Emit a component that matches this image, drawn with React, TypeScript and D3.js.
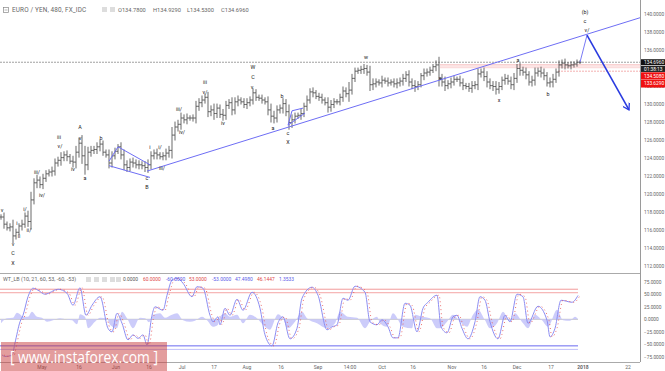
import React from "react";
import * as d3 from "d3";

const closes = [117.5,116.7,116.3,116.4,115.4,115.8,116.5,116.7,117.6,117.0,119.4,121.3,121.6,121.1,121.8,122.3,122.5,122.6,123.5,123.8,124.1,124.4,124.2,123.7,123.6,124.7,125.7,124.3,123.3,124.7,124.9,125.0,125.3,125.6,124.7,124.4,123.5,124.3,124.8,125.3,124.4,123.3,123.0,123.6,123.5,123.3,123.3,123.2,123.0,123.3,124.3,124.6,124.4,124.2,124.3,124.6,124.9,126.6,127.5,127.8,128.5,128.3,128.5,128.5,128.5,129.8,130.2,130.5,130.8,129.2,129.4,129.0,129.6,128.9,128.8,129.9,130.2,129.4,130.3,130.5,130.3,130.0,130.2,130.5,131.3,130.8,130.7,130.5,130.3,129.4,128.7,128.5,129.4,129.6,130.1,129.2,128.0,128.3,128.7,128.8,129.0,129.8,130.5,131.4,131.3,130.9,130.8,130.5,130.2,129.7,130.0,130.3,130.3,130.8,131.5,131.2,131.6,132.9,133.7,133.8,133.9,134.0,133.6,132.2,132.3,132.5,132.4,132.7,132.6,132.4,132.5,132.3,132.4,132.6,132.9,133.3,132.5,132.1,132.0,132.2,133.2,133.5,133.6,133.8,134.2,134.4,132.9,132.5,132.1,132.3,132.5,132.8,132.8,132.4,132.1,132.0,131.8,132.1,132.2,133.4,133.6,133.1,132.5,132.1,132.0,131.7,132.0,132.7,132.9,132.6,132.2,132.9,134.0,133.8,133.6,133.3,132.5,132.7,133.5,133.7,133.5,133.2,132.4,132.5,132.8,133.6,134.4,134.6,134.4,134.3,134.4,134.5,134.7,134.7];
const wicks = [.3,.5,.3,.4,.8,.4,.3,.5,.4,.6,.9,.5,.6,.4,.5,.4,.3,.5,.5,.4,.6,.4,.5,.3,.6,.7,.6,.9,1.1,.6,.5,.4,.5,.5,.4,.3,.6,.5,.4,.3,.5,.6,.5,.4,.5,.4,.5,.4,.5,.6,.5,.4,.5,.3,.4,.5,.5,.9,.6,.5,.6,.4,.5,.3,.4,.6,.5,.5,.4,.6,.5,.7,.5,.4,.6,.5,.4,.6,.5,.5,.3,.4,.5,.4,.5,.4,.3,.4,.3,.6,.7,.6,.5,.4,.6,.5,.8,.6,.4,.3,.5,.4,.5,.4,.5,.3,.4,.4,.3,.6,.5,.4,.3,.4,.5,.4,.9,.5,.4,.3,.4,.5,.4,.7,.6,.4,.3,.5,.3,.4,.3,.4,.5,.4,.5,.4,.5,.4,.6,.4,.3,.5,.4,.4,.3,.5,.9,.5,.6,.4,.5,.4,.3,.4,.5,.3,.4,.5,.4,.6,.4,.5,.6,.4,.5,.6,.5,.4,.5,.4,.5,.6,.5,.6,.4,.5,.4,.5,.6,.4,.5,.5,.4,.5,.6,.4,.5,.4,.5,.3,.4,.3,.3,.2,.2,.2,.2,.2];

const wtSlots = [2,5,12,15,20,23,28,33,38,45,58,67,73,80,86,92,100,108,112,117,122,128,133,138,143,147,152,155,163,167,172,177,183,192,197,203,210,213,218,220,225,230,237,243,252,260,265,272,278,283,290,297,302,312,318,327,332,337,343,348,355,365,370,377,382,388,393,398,405,410,417,423,428,437,441,447,453,457,462,468,475,480,485,490,498,505,510,517,523,528,538,547,550,555,561,572,578];
const wt1 = [-71,-74,-72,-47,-5,8,45,62,58,50,60,52,28,63,8,28,45,-18,-25,12,-8,-41,-31,-38,-31,-51,8,25,18,48,78,82,72,45,65,62,8,-5,5,-11,22,8,40,18,54,22,-31,-53,-7,5,-39,-18,42,64,48,-21,-15,-11,42,38,66,54,-5,-11,-1,-15,-37,-37,32,28,-25,22,34,48,-15,-27,5,8,-18,-39,-5,45,38,-5,-39,8,-5,50,45,-8,26,-2,-35,-18,38,34,47.5];

const histSlots = [1,7,13,17,20,23,28,32,37,42,47,53,60,67,72,77,80,85,88,95,100,107,110,117,122,127,133,140,145,149,153,160,165,172,177,183,190,195,202,207,213,218,220,225,230,237,243,250,257,263,270,278,283,288,295,302,307,317,327,335,340,348,357,365,370,377,380,387,393,403,412,415,422,430,437,440,447,453,460,467,473,478,485,490,497,503,510,515,523,528,535,542,548,557,563,570,575,578];
const hist = [-8,2,3,13,10,5,5,15,5,3,-5,-2,2,-1,-2,-10,10,5,-18,-5,3,2,-11,-18,15,2,-18,3,2,-6,9,12,3,9,12,-2,-5,-3,5,-2,-15,-11,5,12,5,9,-8,9,2,-11,-21,10,2,-18,-5,15,2,-8,-18,-8,15,5,3,-18,-5,5,-8,-15,12,-15,-18,9,5,2,-18,-18,-5,9,-5,-15,9,19,-2,-18,-8,15,-5,12,-8,-18,9,-2,-15,19,-2,-3,5,0];

const priceTicks = [140,138,136,132,130,128,126,124,122,120,118,116,114,112];
const wtTicks = [75,50,25,0,-25,-50,-75];
const timeLabels = ["May","16","Jun","16","Jul","17","Aug","16","Sep","14:00","Oct","16","Nov","16","Dec","17","2018","22"];
const timeSlots = [42,79,116,149,182,214,247,281,318,350,382,413,452,484,517,551,583,628];

const waveLabels = ["iii","v/","A","v","b","iii","v/","iii/","iv/","iv","a","iii/","iv/","i/","ii/","i","ii","v","C","X","v","i","i/","iii/","c","B","iv","W","C","v","b","a","c","X","w","x","a","x","b","(b)","c","v/"];
const waveSlots = [59,60,80,80,101,205,205,179,182,73,85,37,42,25,29,17,19,13,13,13,2,150,160,162,147,147,223,253,253,252,282,273,288,288,366,440,518,499,548,585,585,587];
const wavePrices = [126.4,125.4,127.5,126.3,126.3,132.5,131.4,129.5,127.0,122.8,121.8,122.5,119.9,118.4,116.1,116.8,115.4,114.5,113.5,112.4,118.3,125.3,125.3,123.0,121.8,120.8,128.0,134.2,133.1,132.0,131.0,127.4,126.8,125.8,135.3,132.9,134.9,130.5,131.2,140.3,139.3,138.3];

const trendLine: [number, number][] = [[147,122.6],[640,139.64]];
const wedgeLines: [number, number][][] = [
  [[109,123.2],[150,121.9]],
  [[109,123.7],[118,125.3],[150,123.3]],
  [[288,127.7],[305,129.05]],
  [[288,127.7],[292,129.3],[303,129.6]],
];
const projection: [number, number][] = [[580,134.7],[587,137.7]];
const arrowLine: [number, number][] = [[587,137.7],[629,129.4]];

const sans = "Roboto, 'Liberation Sans', sans-serif";
const fmt = d3.format(".4f");

export default function App() {
  const x = d3.scaleLinear().domain([0, 640]).range([0, 640]);
  const y = d3.scaleLinear().domain([140, 112]).range([14.5, 266.5]);
  const w = d3.scaleLinear().domain([75, -75]).range([281.7, 356.9]);
  const xBar = d3.scaleLinear().domain([0, closes.length - 1]).range([1, 580]);
  const pl = d3.line<[number, number]>().x((d) => x(d[0])).y((d) => y(d[1]));
  const wtLine = d3.line<number>().x((_, i) => x(wtSlots[i])).y((d) => w(d)).curve(d3.curveMonotoneX);
  const wt2Line = d3.line<number>().x((_, i) => x(wtSlots[i] + 2)).y((d) => w(d)).curve(d3.curveMonotoneX);
  const histArea = d3.area<number>().x((_, i) => x(histSlots[i])).y0(w(0)).y1((d) => w(d)).curve(d3.curveMonotoneX);

  const levels = [
    { v: 60, c: "#f29a9a" },
    { v: 53, c: "#f4a5a5" },
    { v: -53, c: "#6a6af0" },
    { v: -60, c: "#c0c0fa" },
  ];
  const legend = [
    { t: "0.0000", x: 123, c: "#555" },
    { t: "60.0000", x: 143, c: "#e04848" },
    { t: "-60.0000", x: 166, c: "#5a5ae8" },
    { t: "53.0000", x: 189, c: "#e04848" },
    { t: "-53.0000", x: 212, c: "#5a5ae8" },
    { t: "47.4980", x: 235, c: "#5a5ae8" },
    { t: "46.1447", x: 257, c: "#e04848" },
    { t: "1.3533", x: 279, c: "#5a5ae8" },
  ];
  const boxes = [
    { t: "134.6960", p: 134.696, bg: "#111", h: 6 },
    { t: "01:38:13", p: 133.95, bg: "#222", h: 6 },
    { t: "134.5080", p: 133.19, bg: "#f01010", h: 7 },
    { t: "133.6290", p: 132.33, bg: "#f01010", h: 8 },
  ];

  return (
    <svg width={665} height={371} style={{ position: "absolute", left: 0, top: 0, background: "#fff" }} fontFamily={sans}>
      <defs>
        <marker id="arr" viewBox="0 0 10 10" refX="9" refY="5" markerWidth="8" markerHeight="8" markerUnits="userSpaceOnUse" orient="auto">
          <path d="M1 0 L9 5 L1 10" fill="none" stroke="#2a3be0" strokeWidth="1.6" />
        </marker>
      </defs>

      {/* frames */}
      <line x1={640.5} x2={640.5} y1={0} y2={362} stroke="#9a9a9a" />
      <line x1={0} x2={640} y1={273.5} y2={273.5} stroke="#aaa" />
      <line x1={0} x2={640} y1={362.5} y2={362.5} stroke="#aaa" />

      {/* price levels */}
      <line x1={0} x2={640} y1={y(134.696)} y2={y(134.696)} stroke="#777" strokeWidth={0.7} strokeDasharray="2 1" />
      <line x1={x(440)} x2={640} y1={y(134.4)} y2={y(134.4)} stroke="#f2a0a0" strokeWidth={0.8} />
      <line x1={x(440)} x2={640} y1={y(134.15)} y2={y(134.15)} stroke="#fbdcdc" strokeWidth={2} />
      <line x1={x(558)} x2={640} y1={y(133.7)} y2={y(133.7)} stroke="#f09a9a" strokeWidth={0.8} strokeDasharray="2 1" />

      {/* OHLC bars */}
      <g stroke="#3c3c3c" strokeWidth={0.9} opacity={0.85}>
        {closes.map((c, i) => {
          const o = i ? closes[i - 1] : c;
          const wk = wicks[i] ?? 0.3;
          const px = xBar(i);
          return (
            <g key={i}>
              <line x1={px} x2={px} y1={y(Math.max(o, c) + wk)} y2={y(Math.min(o, c) - wk)} />
              <line x1={px - 1.6} x2={px} y1={y(o)} y2={y(o)} />
              <line x1={px} x2={px + 1.6} y1={y(c)} y2={y(c)} />
            </g>
          );
        })}
      </g>

      {/* wave drawings */}
      <path d={pl(trendLine)!} fill="none" stroke="#6e6ef5" strokeWidth={1} />
      {wedgeLines.map((l, i) => (
        <path key={i} d={pl(l)!} fill="none" stroke="#6e6ef5" strokeWidth={1} />
      ))}
      <path d={pl(projection)!} fill="none" stroke="#7a7af5" strokeWidth={1} />
      <path d={pl(arrowLine)!} fill="none" stroke="#2a3be0" strokeWidth={1.6} markerEnd="url(#arr)" />

      <g fontSize={5.4} fill="#222" textAnchor="middle">
        {waveLabels.map((t, i) => (
          <text key={i} x={x(waveSlots[i])} y={y(wavePrices[i]) + 2}>{t}</text>
        ))}
      </g>

      {/* price axis */}
      <g fontSize={4.8} fill="#666">
        {priceTicks.map((p) => (
          <text key={p} x={644} y={y(p) + 1.8}>{fmt(p)}</text>
        ))}
        {wtTicks.map((v) => (
          <text key={v} x={644} y={w(v) + 1.8}>{fmt(v)}</text>
        ))}
      </g>
      {boxes.map((b) => (
        <g key={b.t}>
          <rect x={641} width={24} y={y(b.p) - b.h / 2} height={b.h} fill={b.bg} />
          <text x={644} y={y(b.p) + 1.8} fontSize={4.8} fill="#fff">{b.t}</text>
        </g>
      ))}

      {/* header */}
      <rect x={3.5} y={7.5} width={5} height={5} fill="none" stroke="#888" strokeWidth={0.7} />
      <line x1={4.5} x2={7.5} y1={10} y2={10} stroke="#888" strokeWidth={0.6} />
      <text x={12} y={12} fontSize={6.4} fill="#666" letterSpacing={0.15}>EURO / YEN, 480, FX_IDC</text>
      <rect x={102} y={7} width={5} height={5} fill="#ddd" />
      <rect x={110} y={7} width={5} height={5} fill="#ddd" />
      <g fontSize={5.7} fill="#666">
        <text x={118} y={12}>O134.7800</text>
        <text x={153} y={12}>H134.9290</text>
        <text x={187} y={12}>L134.5300</text>
        <text x={221} y={12}>C134.6960</text>
      </g>

      {/* WT levels */}
      <line x1={0} x2={578} y1={w(0)} y2={w(0)} stroke="#c4c4c4" strokeWidth={1} />
      <path d={histArea(hist)!} fill="#c6c6fa" stroke="none" opacity={0.9} />
      {levels.map((l) => (
        <line key={l.v} x1={0} x2={578} y1={w(l.v)} y2={w(l.v)} stroke={l.c} strokeWidth={1} />
      ))}
      <path d={wtLine(wt1)!} fill="none" stroke="#8c8cf2" strokeWidth={1} />
      <path d={wt2Line(wt1)!} fill="none" stroke="#e85050" strokeWidth={0.9} strokeDasharray="0.9 3" />

      {/* WT legend */}
      <text x={3} y={281} fontSize={5.4} fill="#666">WT_LB (10, 21, 60, 53, -60, -53)</text>
      {[86, 94, 102, 110, 116].map((px) => (
        <rect key={px} x={px} y={277} width={5} height={5} fill="#ddd" />
      ))}
      <g fontSize={4.9}>
        {legend.map((l) => (
          <text key={l.t} x={l.x} y={281} fill={l.c}>{l.t}</text>
        ))}
      </g>

      {/* time axis */}
      <g fontSize={5} fill="#666" textAnchor="middle">
        {timeLabels.map((t, i) => (
          <text key={i} x={x(timeSlots[i])} y={369} fontWeight={t === "2018" ? 700 : 400}>{t}</text>
        ))}
      </g>

      {/* watermark */}
      <rect x={1} y={342} width={166} height={29} fill="#c83c3c" opacity={0.5} />
      <text x={84} y={363} textAnchor="middle" fontSize={15.5} fill="#fff" fontFamily="'Open Sans', sans-serif" textLength={148} lengthAdjust="spacingAndGlyphs">[ www.instaforex.com ]</text>
    </svg>
  );
}
